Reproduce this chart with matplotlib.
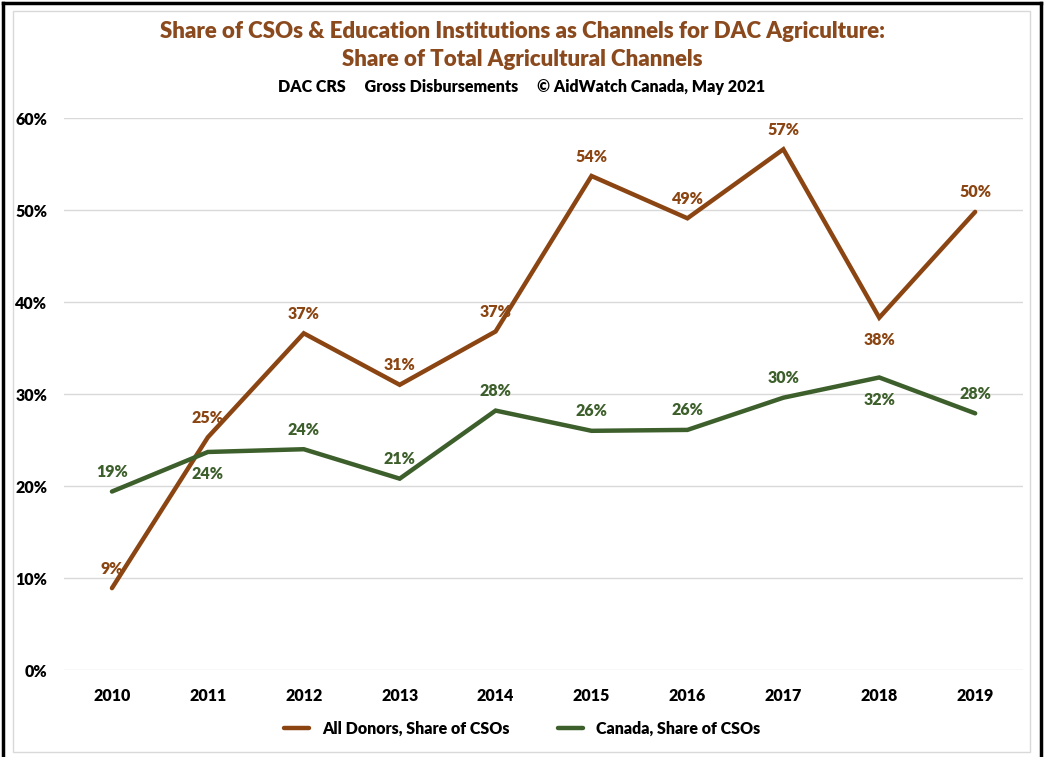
import matplotlib
matplotlib.use("Agg")
import matplotlib.pyplot as plt
from matplotlib.lines import Line2D
from matplotlib.patches import Rectangle
from matplotlib.ticker import PercentFormatter

plt.rcParams['font.family'] = ['Lato', 'DejaVu Sans']
plt.rcParams['font.weight'] = 'bold'

years = ['2010', '2011', '2012', '2013', '2014', '2015', '2016', '2017', '2018', '2019']
all_donors = [0.089, 0.253, 0.366, 0.310, 0.368, 0.537, 0.491, 0.566, 0.383, 0.498]
canada = [0.194, 0.237, 0.240, 0.208, 0.282, 0.260, 0.261, 0.296, 0.318, 0.279]
all_donors_label_pos = ['above', 'above', 'above', 'above', 'above', 'above', 'above', 'above', 'below', 'above']
canada_label_pos = ['above', 'below', 'above', 'above', 'above', 'above', 'above', 'above', 'below', 'above']

brown = '#8B4513'
green = '#3D5F2B'
title_color = '#8B4A1E'

fig = plt.figure(figsize=(10.44, 7.57), dpi=100)
ax = fig.add_axes([0.0613, 0.1149, 0.9187, 0.7292])

x = list(range(len(years)))
ax.plot(x, all_donors, color=brown, lw=3.2, solid_capstyle='round', solid_joinstyle='miter',
        label='All Donors, Share of CSOs', zorder=3)
ax.plot(x, canada, color=green, lw=3.2, solid_capstyle='round', solid_joinstyle='miter',
        label='Canada, Share of CSOs', zorder=3)

def annotate(values, positions, color):
    for i, (v, p) in enumerate(zip(values, positions)):
        dy = 14 if p == 'above' else -16
        ax.annotate(f"{v*100:.0f}%", (i, v), xytext=(0, dy), textcoords='offset points',
                    ha='center', va='center', color=color, fontsize=11.5, fontweight='heavy')

annotate(all_donors, all_donors_label_pos, brown)
annotate(canada, canada_label_pos, green)

ax.set_xlim(-0.5, len(years) - 0.5)
ax.set_ylim(0, 0.6)
ax.set_xticks(x)
ax.set_xticklabels(years)
ax.set_yticks([0, 0.1, 0.2, 0.3, 0.4, 0.5, 0.6])
ax.yaxis.set_major_formatter(PercentFormatter(1.0, decimals=0))
ax.tick_params(axis='both', length=0, labelsize=11.5, colors='black')
ax.tick_params(axis='y', pad=12)
ax.tick_params(axis='x', pad=13)
for lab in ax.get_xticklabels() + ax.get_yticklabels():
    lab.set_fontweight('heavy')
ax.grid(axis='y', color='#D9D9D9', lw=1)
ax.set_axisbelow(True)
for s in ax.spines.values():
    s.set_visible(False)

leg = fig.legend(loc='center', bbox_to_anchor=(0.5, 0.037), ncol=2, frameon=False,
                 fontsize=11.5, handlelength=1.6, columnspacing=3, handletextpad=0.8)
for t in leg.get_texts():
    t.set_fontweight('heavy')

fig.text(0.5, 0.958, 'Share of CSOs & Education Institutions as Channels for DAC Agriculture:',
         ha='center', va='center', fontsize=16, fontweight='heavy', color=title_color)
fig.text(0.5, 0.922, 'Share of Total Agricultural Channels',
         ha='center', va='center', fontsize=16, fontweight='heavy', color=title_color)
fig.text(0.5, 0.885, 'DAC CRS     Gross Disbursements     \u00a9 AidWatch Canada, May 2021',
         ha='center', va='center', fontsize=11.5, fontweight='heavy', color='black')

# frame around the chart
fig.patches.append(Rectangle((0.012, 0.007), 0.975, 0.978, transform=fig.transFigure,
                             fill=False, edgecolor='#D9D9D9', lw=1))
frame_kw = dict(transform=fig.transFigure, color='black', lw=2.5, solid_capstyle='projecting')
fig.add_artist(Line2D([0.0025, 0.9975], [0.9965, 0.9965], **frame_kw))
fig.add_artist(Line2D([0.0025, 0.0025], [0.0, 0.9965], **frame_kw))
fig.add_artist(Line2D([0.9975, 0.9975], [0.0, 0.9965], **frame_kw))

fig.savefig('out.png', dpi=100)
